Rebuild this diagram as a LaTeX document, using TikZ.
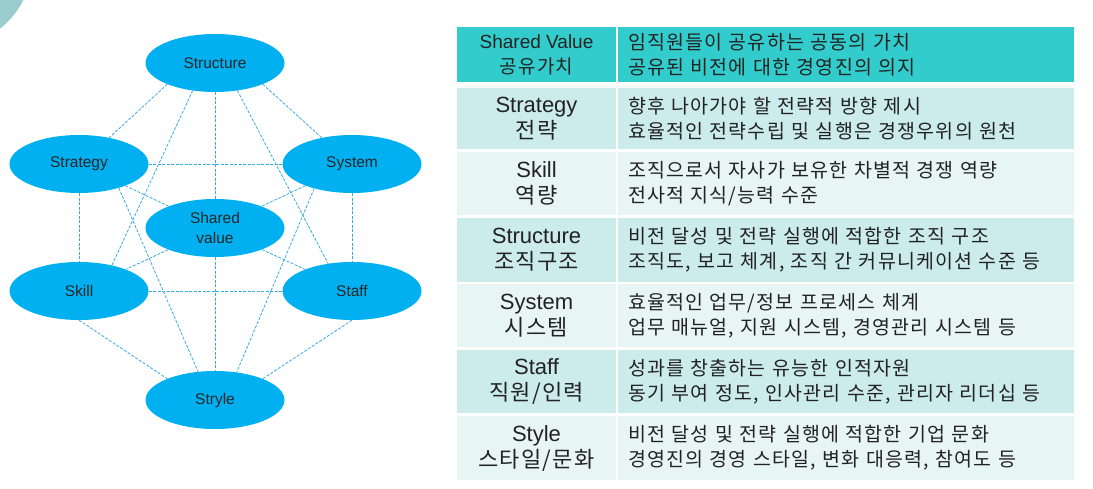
\documentclass[tikz,border=0pt]{standalone}
\usepackage{fontspec}
\setmainfont{Liberation Sans}
\newfontfamily\kr[LetterSpace=6]{Noto Sans CJK KR}
\usetikzlibrary{shapes.geometric}

\definecolor{bubblefill}{HTML}{00B0F0}
\definecolor{linkblue}{HTML}{35AAE4}
\definecolor{cornerteal}{HTML}{99CCCC}
\definecolor{hdteal}{HTML}{33CCCC}
\definecolor{rowdark}{HTML}{CCEBEB}
\definecolor{rowlight}{HTML}{E8F5F5}
\definecolor{ink}{HTML}{222222}

\begin{document}
\begin{tikzpicture}[x=1pt,y=-1pt,
  bubble/.style={ellipse,fill=bubblefill,minimum width=139pt,minimum height=58pt,
    inner sep=0pt,align=center,text=black!85,font=\fontsize{15.5}{20}\selectfont},
  linkline/.style={draw=linkblue,line width=0.8pt,dash pattern=on 3pt off 1.5pt},
  keycell/.style={minimum width=159pt,inner sep=0pt,align=center,text=ink,
    font=\fontsize{22}{26}\selectfont},
  valcell/.style={minimum width=456pt,text width=436pt,inner xsep=10pt,inner ysep=0pt,
    align=left,text=ink,font=\kr\fontsize{19.5}{25}\selectfont}]
\useasboundingbox (0,0) rectangle (1093,489);

\begin{scope}
\clip (0,0) rectangle (1093,489);
\fill[cornerteal] (-55,-40) circle[radius=88pt];
\end{scope}

% 7S bubbles
\node[bubble] at (215,63) (structure) {Structure};
\node[bubble] at (79,164) (strategy) {Strategy};
\node[bubble] at (352,164) (system) {System};
\node[bubble] at (215,228) (shared) {Shared\\value};
\node[bubble] at (79,291) (skill) {Skill};
\node[bubble] at (352,291) (staff) {Staff};
\node[bubble] at (215,400) (stryle) {Stryle};

\draw[linkline] (structure.204) -- (strategy.41);
\draw[linkline] (structure.-24) -- (system.139);
\draw[linkline] (structure) -- (shared);
\draw[linkline] (structure.231) -- (skill.38);
\draw[linkline] (structure.-51) -- (staff.131);
\draw[linkline] (strategy) -- (system);
\draw[linkline] (strategy) -- (shared);
\draw[linkline] (strategy) -- (skill);
\draw[linkline] (strategy.-31) -- (stryle.121);
\draw[linkline] (system) -- (shared);
\draw[linkline] (system) -- (staff);
\draw[linkline] (system.-147) -- (stryle.52);
\draw[linkline] (shared) -- (skill);
\draw[linkline] (shared) -- (staff);
\draw[linkline] (shared) -- (stryle);
\draw[linkline] (skill) -- (staff);
\draw[linkline] (skill.south) -- (stryle.156);
\draw[linkline] (staff.south) -- (stryle.24);

% table
\node[keycell,fill=hdteal,minimum height=55pt,font=\fontsize{19}{25}\selectfont] at (536.5,54.5) (hdkey) {Shared Value\\{\kr 공유가치}};
\node[valcell,fill=hdteal,minimum height=55pt] at (846,54.5) (hdval) {임직원들이 공유하는 공동의 가치\\공유된 비전에 대한 경영진의 의지};

\node[keycell,fill=rowdark,minimum height=61pt] at (536.5,118.5) (stratkey) {Strategy\\{\kr 전략}};
\node[valcell,fill=rowdark,minimum height=61pt] at (846,118.5) (stratval) {향후 나아가야 할 전략적 방향 제시\\효율적인 전략수립 및 실행은 경쟁우위의 원천};

\node[keycell,fill=rowlight,minimum height=63pt] at (536.5,183.5) (skillkey) {Skill\\{\kr 역량}};
\node[valcell,fill=rowlight,minimum height=63pt] at (846,183.5) (skillval) {조직으로서 자사가 보유한 차별적 경쟁 역량\\전사적 지식/능력 수준};

\node[keycell,fill=rowdark,minimum height=64pt] at (536.5,250) (structkey) {Structure\\{\kr 조직구조}};
\node[valcell,fill=rowdark,minimum height=64pt] at (846,250) (structval) {비전 달성 및 전략 실행에 적합한 조직 구조\\조직도, 보고 체계, 조직 간 커뮤니케이션 수준 등};

\node[keycell,fill=rowlight,minimum height=63pt] at (536.5,315.5) (syskey) {System\\{\kr 시스템}};
\node[valcell,fill=rowlight,minimum height=63pt] at (846,315.5) (sysval) {효율적인 업무/정보 프로세스 체계\\업무 매뉴얼, 지원 시스템, 경영관리 시스템 등};

\node[keycell,fill=rowdark,minimum height=63pt] at (536.5,381.5) (staffkey) {Staff\\{\kr 직원/인력}};
\node[valcell,fill=rowdark,minimum height=63pt] at (846,381.5) (staffval) {성과를 창출하는 유능한 인적자원\\동기 부여 정도, 인사관리 수준, 관리자 리더십 등};

\node[keycell,fill=rowlight,minimum height=64pt] at (536.5,448) (stylekey) {Style\\{\kr 스타일/문화}};
\node[valcell,fill=rowlight,minimum height=64pt] at (846,448) (styleval) {비전 달성 및 전략 실행에 적합한 기업 문화\\경영진의 경영 스타일, 변화 대응력, 참여도 등};
\end{tikzpicture}
\end{document}
